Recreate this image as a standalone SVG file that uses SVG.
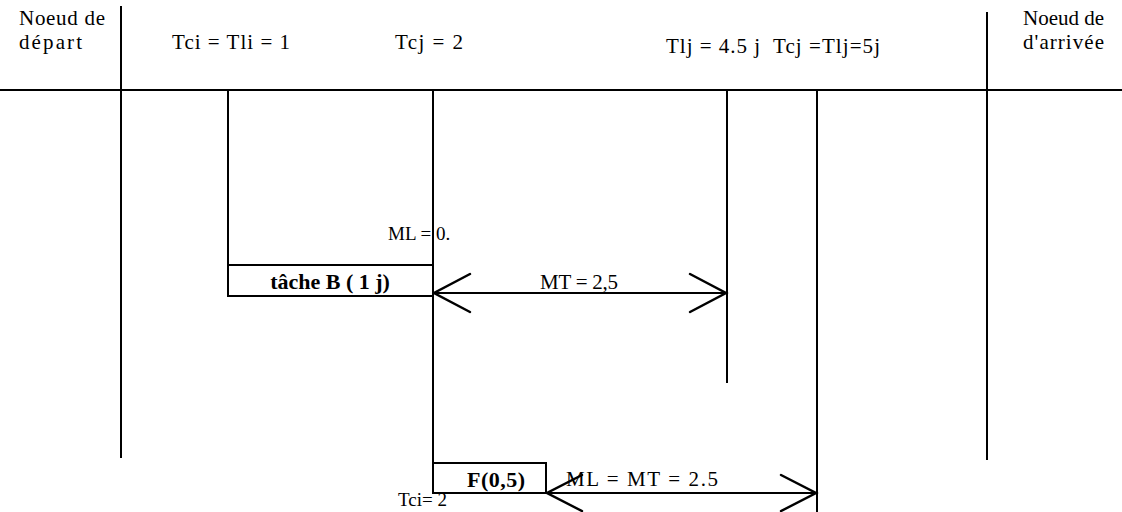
<svg xmlns="http://www.w3.org/2000/svg" width="1122" height="512" viewBox="0 0 1122 512">
<style>
text{font-family:"Liberation Serif","Times New Roman",serif;font-size:21px;fill:#000}
.s{font-size:19px}
.b{font-weight:bold;font-size:22px}
.ln{stroke:#000;stroke-width:2;fill:none}
.box{stroke:#000;stroke-width:2;fill:#fff}
.ah{stroke:#000;stroke-width:2.5;fill:none;stroke-linecap:round}
</style>
<rect width="1122" height="512" fill="#fff"/>
<g id="connectors">
<line class="ln" x1="0" y1="90" x2="1122" y2="90"/>
<line class="ln" x1="121" y1="6" x2="121" y2="458"/>
<line class="ln" x1="987" y1="12" x2="987" y2="460"/>
<line class="ln" x1="228" y1="90" x2="228" y2="265"/>
<line class="ln" x1="433" y1="90" x2="433" y2="463"/>
<line class="ln" x1="727" y1="90" x2="727" y2="383"/>
<line class="ln" x1="817" y1="90" x2="817" y2="512"/>
<line class="ln" x1="433" y1="293" x2="727" y2="293"/>
<polyline class="ah" points="470,274 434,293 470,312"/>
<polyline class="ah" points="690,274 726,293 690,312"/>
<line class="ln" x1="546" y1="493" x2="817" y2="493"/>
<polyline class="ah" points="582,475 547,493 582,511"/>
<polyline class="ah" points="781,475 816,493 781,511"/>
</g>
<g id="start-node">
<text x="19" y="25" textLength="86">Noeud de</text>
<text x="19" y="49" textLength="63">départ</text>
</g>
<g id="end-node">
<text x="1023" y="25" textLength="81">Noeud de</text>
<text x="1023" y="49" textLength="81">d'arrivée</text>
</g>
<g id="labels">
<text x="172" y="49" textLength="118">Tci = Tli = 1</text>
<text x="395" y="49" textLength="68">Tcj = 2</text>
<text x="666" y="53" textLength="94">Tlj = 4.5 j</text>
<text x="773" y="53" textLength="107">Tcj =Tlj=5j</text>
<text class="s" x="388" y="240">ML = 0.</text>
<text x="540" y="289" textLength="78">MT = 2,5</text>
<text x="566" y="486" textLength="152">ML = MT = 2.5</text>
<text class="s" x="398" y="506">Tci= 2</text>
</g>
<g id="task-b">
<rect class="box" x="228" y="265" width="205" height="31"/>
<text class="b" x="330" y="289" text-anchor="middle">tâche B ( 1 j)</text>
</g>
<g id="task-f">
<rect class="box" x="433" y="463" width="113" height="30"/>
<text class="b" x="467" y="487" textLength="58">F(0,5)</text>
</g>
</svg>
